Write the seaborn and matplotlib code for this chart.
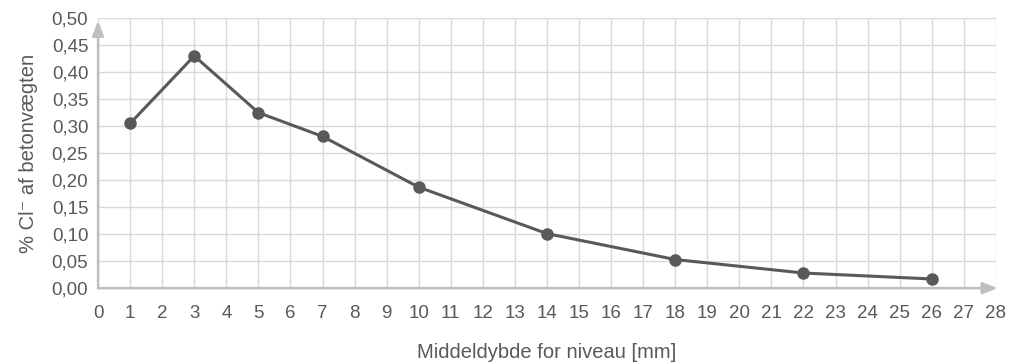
import numpy as np
import pandas as pd
import matplotlib
matplotlib.use("Agg")
import matplotlib.pyplot as plt
import seaborn as sns

depth = [1, 3, 5, 7, 10, 14, 18, 22, 26]
chloride = [0.305, 0.430, 0.325, 0.281, 0.187, 0.101, 0.053, 0.028, 0.017]
x_ticks = list(range(0, 29))
y_ticks = [0.00, 0.05, 0.10, 0.15, 0.20, 0.25, 0.30, 0.35, 0.40, 0.45, 0.50]

df = pd.DataFrame({"depth": depth, "chloride": chloride})

sns.set_style("white")
plt.rcParams['font.family'] = ['Liberation Sans Narrow', 'Liberation Sans', 'DejaVu Sans']

text_col = "#595959"
axis_col = "#bfbfbf"
grid_col = "#d9d9d9"

fig = plt.figure(figsize=(10.11, 3.62), dpi=100)
ax = fig.add_axes([0.097, 0.204, 0.888, 0.746])

sns.lineplot(data=df, x="depth", y="chloride", ax=ax, color="#595959",
             linewidth=2.2, marker="o", markersize=9, markeredgewidth=0, zorder=3)

ax.set_xlim(0, 28)
ax.set_ylim(0, 0.5)
ax.set_xticks(x_ticks)
ax.set_yticks(y_ticks)
ax.set_yticklabels([f"{v:.2f}".replace(".", ",") for v in y_ticks])
ax.grid(True, color=grid_col, linewidth=1)
ax.set_axisbelow(True)
for s in ax.spines.values():
    s.set_visible(False)

ax.tick_params(axis="both", length=0, labelsize=13.5, colors=text_col, pad=7)
ax.tick_params(axis="x", pad=12)

# axis arrows
ax.annotate("", xy=(0, 0.99), xytext=(0, 0), xycoords="axes fraction",
            arrowprops=dict(arrowstyle="-|>,head_width=0.35,head_length=0.9",
                            color=axis_col, lw=1.8, shrinkA=0, shrinkB=0))
ax.annotate("", xy=(1.002, 0), xytext=(0, 0), xycoords="axes fraction",
            arrowprops=dict(arrowstyle="-|>,head_width=0.35,head_length=0.9",
                            color=axis_col, lw=1.8, shrinkA=0, shrinkB=0))

ax.set_xlabel("Middeldybde for niveau [mm]", fontsize=14.5, color=text_col, labelpad=15)
ax.set_ylabel("% Cl\u207b af betonvægten", fontsize=14.5, color=text_col, labelpad=10)

fig.savefig("out.png", dpi=100)
